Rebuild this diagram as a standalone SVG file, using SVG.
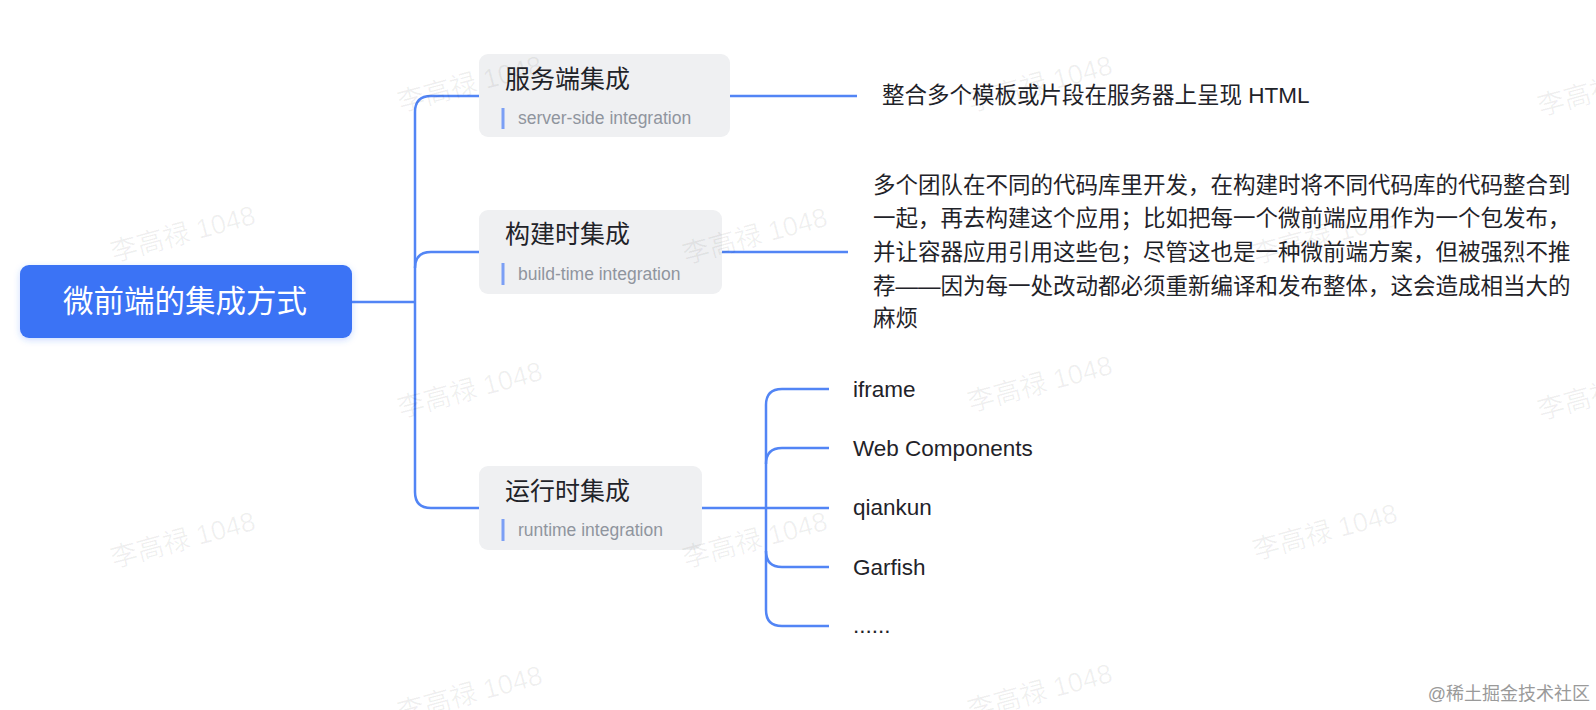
<svg xmlns="http://www.w3.org/2000/svg" width="1596" height="710" viewBox="0 0 1596 710">
<defs>
<filter id="sh" x="-10%" y="-30%" width="120%" height="160%">
<feDropShadow dx="0" dy="2" stdDeviation="3" flood-color="#3370ff" flood-opacity="0.25"/>
</filter>
<style>
.cjk{font-family:"Liberation Sans","Noto Sans CJK SC",sans-serif;}
.title{font-size:25px;fill:#1f2329;}
.sub{font-size:17.5px;fill:#8f959e;}
.leaf{font-size:22.5px;fill:#1f2329;}
.para{font-size:22.5px;fill:#1f2329;}
.node{fill:#eff0f2;}
.bar{stroke:#7b9ff5;stroke-width:3;}
.link{fill:none;stroke:#5285f5;stroke-width:2.5;}
.wm{font-size:27px;fill:#000;fill-opacity:0.06;}
</style>
</defs>
<rect width="1596" height="710" fill="#ffffff"/>

<g id="connectors">
<path class="link" d="M352 302 H415"/>
<path class="link" d="M479 96 H431 Q415 96 415 112 V492 Q415 508 431 508 H479"/>
<path class="link" d="M415 268 Q415 252 431 252 H479"/>
<path class="link" d="M730 96 H857"/>
<path class="link" d="M722 252 H848"/>
<path class="link" d="M702 508 H766"/>
<path class="link" d="M829 389 H782 Q766 389 766 405 V610 Q766 626 782 626 H829"/>
<path class="link" d="M766 464 Q766 448 782 448 H829"/>
<path class="link" d="M766 508 H829"/>
<path class="link" d="M766 551 Q766 567 782 567 H829"/>
</g>

<g id="root">
<rect x="20" y="265" width="332" height="73" rx="9" fill="#3a73f5" filter="url(#sh)"/>
<text class="cjk" x="185" y="312" text-anchor="middle" font-size="30.5" fill="#ffffff">微前端的集成方式</text>
</g>

<g id="node-server">
<rect class="node" x="479" y="54" width="251" height="83" rx="9"/>
<text class="cjk title" x="505" y="88">服务端集成</text>
<line class="bar" x1="503" y1="108" x2="503" y2="129"/>
<text class="cjk sub" x="518" y="124">server-side integration</text>
</g>

<g id="node-build">
<rect class="node" x="479" y="210" width="243" height="84" rx="9"/>
<text class="cjk title" x="505" y="243">构建时集成</text>
<line class="bar" x1="503" y1="263" x2="503" y2="285"/>
<text class="cjk sub" x="518" y="280">build-time integration</text>
</g>

<g id="node-runtime">
<rect class="node" x="479" y="466" width="223" height="84" rx="9"/>
<text class="cjk title" x="505" y="500">运行时集成</text>
<line class="bar" x1="503" y1="519" x2="503" y2="541"/>
<text class="cjk sub" x="518" y="536">runtime integration</text>
</g>

<g id="desc-server">
<text class="cjk para" x="882" y="103">整合多个模板或片段在服务器上呈现 HTML</text>
</g>

<g id="desc-build">
<text class="cjk para" x="873" y="193">多个团队在不同的代码库里开发，在构建时将不同代码库的代码整合到</text>
<text class="cjk para" x="873" y="226">一起，再去构建这个应用；比如把每一个微前端应用作为一个包发布，</text>
<text class="cjk para" x="873" y="260">并让容器应用引用这些包；尽管这也是一种微前端方案，但被强烈不推</text>
<text class="cjk para" x="873" y="294">荐——因为每一处改动都必须重新编译和发布整体，这会造成相当大的</text>
<text class="cjk para" x="873" y="326">麻烦</text>
</g>

<g id="leaf-iframe"><text class="cjk leaf" x="853" y="397">iframe</text></g>
<g id="leaf-webcomponents"><text class="cjk leaf" x="853" y="456">Web Components</text></g>
<g id="leaf-qiankun"><text class="cjk leaf" x="853" y="515">qiankun</text></g>
<g id="leaf-garfish"><text class="cjk leaf" x="853" y="575">Garfish</text></g>
<g id="leaf-more"><text class="cjk leaf" x="853" y="633">......</text></g>

<g id="watermarks">
<text class="cjk wm" transform="translate(470 84) rotate(-15)" text-anchor="middle" dy="9">李高禄 1048</text>
<text class="cjk wm" transform="translate(1040 84) rotate(-15)" text-anchor="middle" dy="9">李高禄 1048</text>
<text class="cjk wm" transform="translate(1610 88) rotate(-15)" text-anchor="middle" dy="9">李高禄 1048</text>
<text class="cjk wm" transform="translate(183 234) rotate(-15)" text-anchor="middle" dy="9">李高禄 1048</text>
<text class="cjk wm" transform="translate(755 236) rotate(-15)" text-anchor="middle" dy="9">李高禄 1048</text>
<text class="cjk wm" transform="translate(1325 236) rotate(-15)" text-anchor="middle" dy="9">李高禄 1048</text>
<text class="cjk wm" transform="translate(470 390) rotate(-15)" text-anchor="middle" dy="9">李高禄 1048</text>
<text class="cjk wm" transform="translate(1040 384) rotate(-15)" text-anchor="middle" dy="9">李高禄 1048</text>
<text class="cjk wm" transform="translate(1610 392) rotate(-15)" text-anchor="middle" dy="9">李高禄 1048</text>
<text class="cjk wm" transform="translate(183 540) rotate(-15)" text-anchor="middle" dy="9">李高禄 1048</text>
<text class="cjk wm" transform="translate(755 540) rotate(-15)" text-anchor="middle" dy="9">李高禄 1048</text>
<text class="cjk wm" transform="translate(1325 532) rotate(-15)" text-anchor="middle" dy="9">李高禄 1048</text>
<text class="cjk wm" transform="translate(470 694) rotate(-15)" text-anchor="middle" dy="9">李高禄 1048</text>
<text class="cjk wm" transform="translate(1040 692) rotate(-15)" text-anchor="middle" dy="9">李高禄 1048</text>
</g>

<g id="credit">
<text class="cjk" x="1590" y="700" text-anchor="end" font-size="18" fill="#9a9a9a">@稀土掘金技术社区</text>
</g>
</svg>
